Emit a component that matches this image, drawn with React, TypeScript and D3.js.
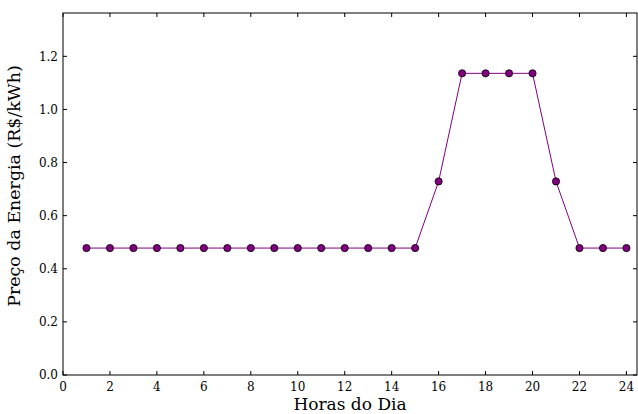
import React, { useEffect, useRef } from 'react';
import * as d3 from 'd3';

const hours = [1, 2, 3, 4, 5, 6, 7, 8, 9, 10, 11, 12, 13, 14, 15, 16, 17, 18, 19, 20, 21, 22, 23, 24];
const prices = [0.478, 0.478, 0.478, 0.478, 0.478, 0.478, 0.478, 0.478, 0.478, 0.478, 0.478, 0.478, 0.478, 0.478, 0.478, 0.729, 1.136, 1.136, 1.136, 1.136, 0.729, 0.478, 0.478, 0.478];
const xTicks = [0, 2, 4, 6, 8, 10, 12, 14, 16, 18, 20, 22, 24];
const yTicks = [0.0, 0.2, 0.4, 0.6, 0.8, 1.0, 1.2];

const App = () => {
  const svgRef = useRef<SVGSVGElement>(null);

  useEffect(() => {
    const width = 638;
    const height = 414;
    const margin = { top: 13, right: 1, bottom: 39, left: 63 };

    const svg = d3.select(svgRef.current);
    svg.selectAll('*').remove();

    const w = width - margin.left - margin.right;
    const h = height - margin.top - margin.bottom;

    const x = d3.scaleLinear().domain([0, 24.45]).range([0, w]);
    const y = d3.scaleLinear().domain([0, 1.3632]).range([h, 0]);

    const g = svg.append('g').attr('transform', `translate(${margin.left},${margin.top})`);
    const font = 'DejaVu Serif';

    // line + markers
    const line = d3.line<number>()
      .x((d, i) => x(hours[i]))
      .y(d => y(d));

    g.append('path')
      .datum(prices)
      .attr('d', line)
      .attr('fill', 'none')
      .attr('stroke', '#800080')
      .attr('stroke-width', 1);

    g.selectAll('circle')
      .data(prices)
      .enter()
      .append('circle')
      .attr('cx', (d, i) => x(hours[i]))
      .attr('cy', d => y(d))
      .attr('r', 3.6)
      .attr('fill', '#800080')
      .attr('stroke', '#000')
      .attr('stroke-width', 0.8);

    // frame
    g.append('rect')
      .attr('width', w)
      .attr('height', h)
      .attr('fill', 'none')
      .attr('stroke', '#000')
      .attr('stroke-width', 1);

    // inward ticks, all four sides
    xTicks.forEach(t => {
      g.append('line').attr('x1', x(t)).attr('x2', x(t)).attr('y1', h).attr('y2', h - 4).attr('stroke', '#000');
      g.append('line').attr('x1', x(t)).attr('x2', x(t)).attr('y1', 0).attr('y2', 4).attr('stroke', '#000');
      g.append('text')
        .attr('x', x(t))
        .attr('y', h + 16)
        .attr('text-anchor', 'middle')
        .attr('font-family', font)
        .attr('font-size', 12)
        .text(t);
    });

    yTicks.forEach(t => {
      g.append('line').attr('x1', 0).attr('x2', 4).attr('y1', y(t)).attr('y2', y(t)).attr('stroke', '#000');
      g.append('line').attr('x1', w).attr('x2', w - 4).attr('y1', y(t)).attr('y2', y(t)).attr('stroke', '#000');
      g.append('text')
        .attr('x', -5)
        .attr('y', y(t))
        .attr('dy', '0.35em')
        .attr('text-anchor', 'end')
        .attr('font-family', font)
        .attr('font-size', 12)
        .text(t.toFixed(1));
    });

    // axis labels
    g.append('text')
      .attr('x', w / 2)
      .attr('y', h + 35)
      .attr('text-anchor', 'middle')
      .attr('font-family', font)
      .attr('font-size', 17)
      .text('Horas do Dia');

    g.append('text')
      .attr('transform', 'rotate(-90)')
      .attr('x', -h / 2 + 8)
      .attr('y', -43)
      .attr('text-anchor', 'middle')
      .attr('font-family', font)
      .attr('font-size', 17.4)
      .text('Preço da Energia (R$/kWh)');
  }, []);

  return (
    <svg ref={svgRef} width={638} height={414} style={{ position: 'absolute', left: 0, top: 0 }}></svg>
  );
};

export default App;
